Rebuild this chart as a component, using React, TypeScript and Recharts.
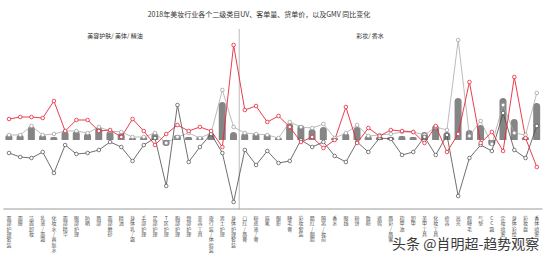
import React from 'react';
import { ComposedChart, Bar, Line, XAxis, YAxis, ReferenceLine } from 'recharts';

// category names (二级类目), left group then right group
const categories = [
  '面部护理套装', '面膜', '洁面卸妆', '乳液/面霜', '化妆水/爽肤水', '面部精华', '眼部护理',
  '防晒', '唇部', '面部磨砂', '精油', '身体乳/霜', '手部护理', '足部护理', 'T区护理',
  '胸部护理', '颈部护理', '美容工具', '旅行装/体验装', '男士护理', '身体护理套装',
  '口红/唇膏', '粉底液/膏', '眉笔', '眼影', '睫毛膏', '彩妆套装', '腮红/胭脂', '隔离/妆前',
  '香水', '眼线', '粉饼', '散粉', '遮瑕', '唇彩/唇蜜', '指甲油', '卸甲', '美甲工具',
  '化妆工具', '修容', '高光', '假睫毛', '气垫', 'CC霜', '定妆喷雾', '身体彩绘', '彩妆盘', '香体喷雾',
];

// GMV YoY (bars)
const gmvYoY = [
  5, 5, 14, 5, 3, 9, 9, 7, 13, 9, 7, 2, 3, 7, -6, 5, 3, 3, 7, 38, 8,
  7, 7, 6, 2, 17, 15, 11, 13, 2, 7, 13, 4, 3, 3, 4, 3, 8, 15, 8, 42, 10, 15, -6, 42, 21, 3, 37,
];

// UV YoY (light gray line)
const uvYoY = [
  5, 5, 14, 5, 6, 9, 9, 7, 13, 9, 8, 3, 3, 7, -3, 3, 7, 2, 7, 50, 13,
  7, 6, 5, 2, 18, 13, 12, 16, 2, 7, 15, 4, 5, 6, 8, 8, 5, 13, 10, 100, 4, 19, -4, 35, 7, 5, 47,
];

// 货单价 YoY (red line)
const priceYoY = [
  21, 23, 23, 22, 39, 9, 20, 20, 9, 10, 3, 21, 9, -5, 6, 15, 9, 13, 9, -7, 95,
  30, 34, 18, 24, 13, -2, 3, -8, 0, 33, -3, 12, 4, 10, 9, 8, -3, 14, -12, 6, 58, -3, 8, -11, 63, 2, -27,
];

// 客单量 YoY (dark line)
const qtyYoY = [
  -13, -17, -18, -12, -33, -5, -14, -13, -10, -2, -7, -21, -5, 2, -46, 35, -22, -7, 6, -13, -62,
  -10, -25, -11, -23, -21, 0, -7, -2, -16, -22, -2, -12, 2, 1, -15, -12, 3, -15, 5, -56, -18, -5, -11, 27, -10, -18, 14,
];

const data = categories.map((name, i) => ({
  name,
  gmv: gmvYoY[i],
  uv: uvYoY[i],
  price: priceYoY[i],
  qty: qtyYoY[i],
}));

const FONT = '"Noto Sans CJK SC", "Noto Sans", sans-serif';

// stacked vertical tick label, one char per line
const VerticalTick = ({ x, y, payload }: any) => {
  const chars = Array.from(String(payload.value));
  return (
    <text x={x} y={y} fontSize={5} fill="#555" textAnchor="middle" fontFamily={FONT}>
      {chars.map((c, i) => (
        <tspan key={i} x={x} dy={i === 0 ? 3 : 5.3}>
          {c}
        </tspan>
      ))}
    </text>
  );
};

const App = () => {
  return (
    <div style={{ position: 'absolute', left: 0, top: 0, width: 554, height: 258, background: '#fff', fontFamily: FONT }}>
      <div style={{ position: 'absolute', left: 0, width: 518, top: 9, textAlign: 'center', fontSize: 7, color: '#333' }}>
        2018年美妆行业各个二级类目UV、客单量、货单价，以及GMV 同比变化
      </div>
      <div style={{ position: 'absolute', left: 60, width: 110, top: 31, textAlign: 'center', fontSize: 6, color: '#333' }}>
        美容护肤/ 美体/ 精油
      </div>
      <div style={{ position: 'absolute', left: 320, width: 100, top: 31, textAlign: 'center', fontSize: 6, color: '#333' }}>
        彩妆/ 香水
      </div>
      <ComposedChart
        width={554}
        height={258}
        data={data}
        margin={{ top: 29, right: 11.6, left: 3.4, bottom: 9 }}
      >
        <XAxis
          dataKey="name"
          interval={0}
          height={40}
          tickLine={false}
          axisLine={{ stroke: '#9a9a9a', strokeWidth: 1 }}
          tick={<VerticalTick />}
        />
        <YAxis hide domain={[-69, 111]} />
        <ReferenceLine x={categories[20]} position="end" stroke="#bbb" strokeWidth={1} />
        <Bar dataKey="gmv" fill="#858585" barSize={7} radius={[3.5, 3.5, 0, 0]} isAnimationActive={false} />
        <Line
          type="linear"
          dataKey="uv"
          stroke="#aaa"
          strokeWidth={0.8}
          dot={{ r: 1.8, fill: '#fff', stroke: '#999', strokeWidth: 0.7 }}
          isAnimationActive={false}
        />
        <Line
          type="linear"
          dataKey="qty"
          stroke="#4a4a4a"
          strokeWidth={0.8}
          dot={{ r: 1.8, fill: '#fff', stroke: '#4a4a4a', strokeWidth: 0.7 }}
          isAnimationActive={false}
        />
        <Line
          type="linear"
          dataKey="price"
          stroke="#e8273a"
          strokeWidth={0.9}
          dot={{ r: 1.8, fill: '#fff', stroke: '#e8273a', strokeWidth: 0.8 }}
          isAnimationActive={false}
        />
      </ComposedChart>
      <div
        style={{
          position: 'absolute',
          left: 392,
          top: 233,
          fontSize: 14,
          color: '#3a3a3a',
          whiteSpace: 'nowrap',
          textShadow: '0 0 2px #fff',
        }}
      >
        头条 @肖明超-趋势观察
      </div>
    </div>
  );
};

export default App;
